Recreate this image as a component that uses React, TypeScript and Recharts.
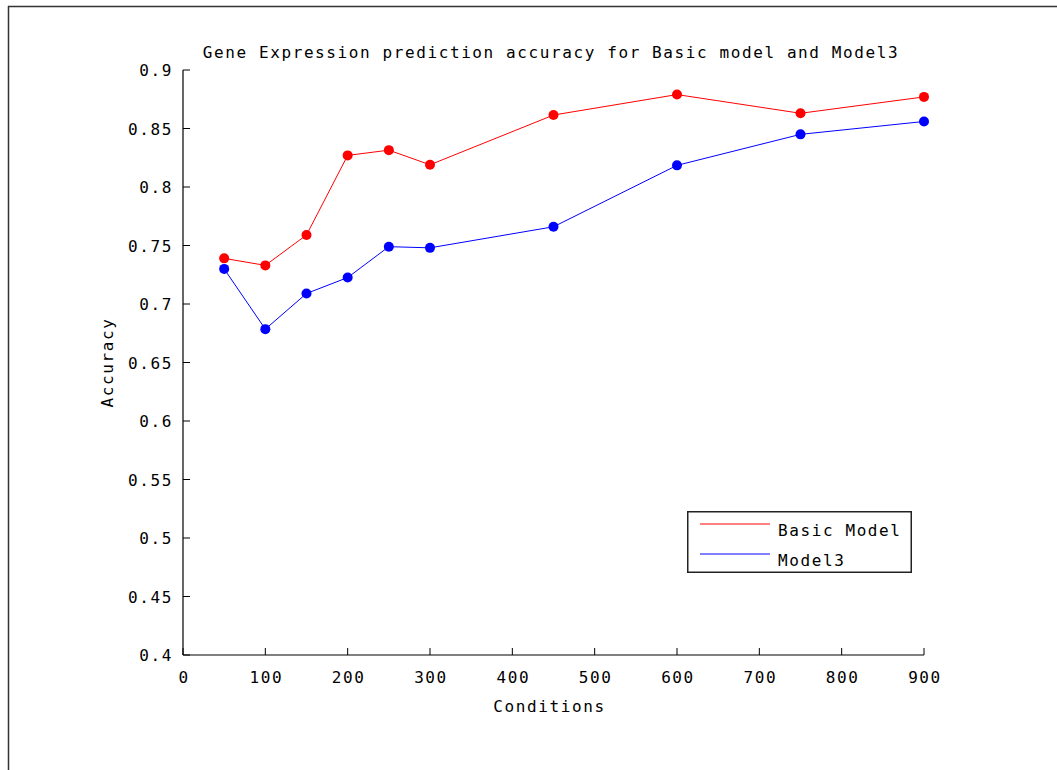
import React from 'react';
import { LineChart, Line, XAxis, YAxis } from 'recharts';

const conditions = [50, 100, 150, 200, 250, 300, 450, 600, 750, 900];
const basicModel = [0.739, 0.733, 0.759, 0.827, 0.8315, 0.819, 0.8615, 0.879, 0.863, 0.877];
const model3 = [0.730, 0.6785, 0.709, 0.7226, 0.749, 0.748, 0.766, 0.8185, 0.845, 0.856];
const xTicks = [0, 100, 200, 300, 400, 500, 600, 700, 800, 900];
const yTicks = [0.4, 0.45, 0.5, 0.55, 0.6, 0.65, 0.7, 0.75, 0.8, 0.85, 0.9];
const titleText = 'Gene Expression prediction accuracy for Basic model and Model3';
const xLabel = 'Conditions';
const yLabel = 'Accuracy';
const seriesNames = ['Basic Model', 'Model3'];
const seriesColors = ['#ff0000', '#0000ff'];

const data = conditions.map((c, i) => ({ x: c, basic: basicModel[i], model3: model3[i] }));

const FONT = '"DejaVu Sans Mono", "Liberation Mono", monospace';
const FS = 16;
const LS = 1.6;

const fmtY = (v: number) => String(Math.round(v * 100) / 100);

const YTick = (props: any) => {
  const { x, y, payload } = props;
  return (
    <g>
      <line x1={x} x2={x + 7} y1={y} y2={y} stroke="#000" strokeWidth={1} />
      <text x={x - 10} y={y + 6} textAnchor="end" fontFamily={FONT} fontSize={FS} letterSpacing={LS} fill="#000">
        {fmtY(payload.value)}
      </text>
    </g>
  );
};

const XTick = (props: any) => {
  const { x, y, payload } = props;
  return (
    <g>
      <line x1={x} x2={x} y1={y} y2={y - 7} stroke="#000" strokeWidth={1} />
      <text x={x + 1} y={y + 28} textAnchor="middle" fontFamily={FONT} fontSize={FS} letterSpacing={LS} fill="#000">
        {String(payload.value)}
      </text>
    </g>
  );
};

export default function App() {
  return (
    <div style={{ position: 'absolute', left: 0, top: 0, width: 1057, height: 770, background: '#fff', overflow: 'hidden' }}>
      <svg width={1057} height={770} style={{ position: 'absolute', left: 0, top: 0 }}>
        <line x1={8} x2={1057} y1={6.5} y2={6.5} stroke="#333" strokeWidth={1.5} />
        <line x1={8.5} x2={8.5} y1={6} y2={770} stroke="#333" strokeWidth={1.5} />
        <text x={551} y={58} textAnchor="middle" fontFamily={FONT} fontSize={FS} letterSpacing={LS} fill="#000">
          {titleText}
        </text>
      </svg>
      <div style={{ position: 'absolute', left: 0, top: 0 }}>
        <LineChart width={1057} height={770} data={data} margin={{ top: 70, right: 133, bottom: 55, left: 0 }}>
          <XAxis
            dataKey="x"
            type="number"
            domain={[0, 900]}
            ticks={xTicks}
            tickSize={0}
            tickMargin={0}
            tickLine={false}
            tick={<XTick />}
            height={60}
            axisLine={{ stroke: '#000', strokeWidth: 1.2 }}
            interval={0}
            label={(p: any) => {
              const vb = p.viewBox;
              return (
                <text x={vb.x + vb.width / 2 - 4} y={vb.y + 57} textAnchor="middle" fontFamily={FONT} fontSize={FS} letterSpacing={LS} fill="#000">
                  {xLabel}
                </text>
              );
            }}
          />
          <YAxis
            type="number"
            domain={[0.4, 0.9]}
            ticks={yTicks}
            tickSize={0}
            tickMargin={0}
            tickLine={false}
            tick={<YTick />}
            width={183}
            interval={0}
            axisLine={{ stroke: '#000', strokeWidth: 1.2 }}
            label={(p: any) => {
              const vb = p.viewBox;
              const cy = vb.y + vb.height / 2;
              return (
                <text x={113} y={cy} transform={`rotate(-90, 113, ${cy})`} textAnchor="middle" fontFamily={FONT} fontSize={FS} letterSpacing={LS} fill="#000">
                  {yLabel}
                </text>
              );
            }}
          />
          <Line
            dataKey="basic"
            name={seriesNames[0]}
            stroke={seriesColors[0]}
            strokeWidth={1}
            dot={{ r: 5, fill: seriesColors[0], stroke: seriesColors[0], strokeWidth: 0 }}
            activeDot={false}
            isAnimationActive={false}
          />
          <Line
            dataKey="model3"
            name={seriesNames[1]}
            stroke={seriesColors[1]}
            strokeWidth={1}
            dot={{ r: 5, fill: seriesColors[1], stroke: seriesColors[1], strokeWidth: 0 }}
            activeDot={false}
            isAnimationActive={false}
          />
        </LineChart>
      </div>
      <svg width={225} height={62} style={{ position: 'absolute', left: 687, top: 511 }}>
        <rect x={0.75} y={0.75} width={223.5} height={60.5} fill="#fff" stroke="#222" strokeWidth={1.5} />
        {seriesNames.map((name, i) => (
          <g key={name}>
            <line x1={13} x2={83} y1={13 + i * 30} y2={13 + i * 30} stroke={seriesColors[i]} strokeWidth={1} />
            <text x={91} y={25 + i * 30} fontFamily={FONT} fontSize={FS} letterSpacing={LS} fill="#000">
              {name}
            </text>
          </g>
        ))}
      </svg>
    </div>
  );
}
